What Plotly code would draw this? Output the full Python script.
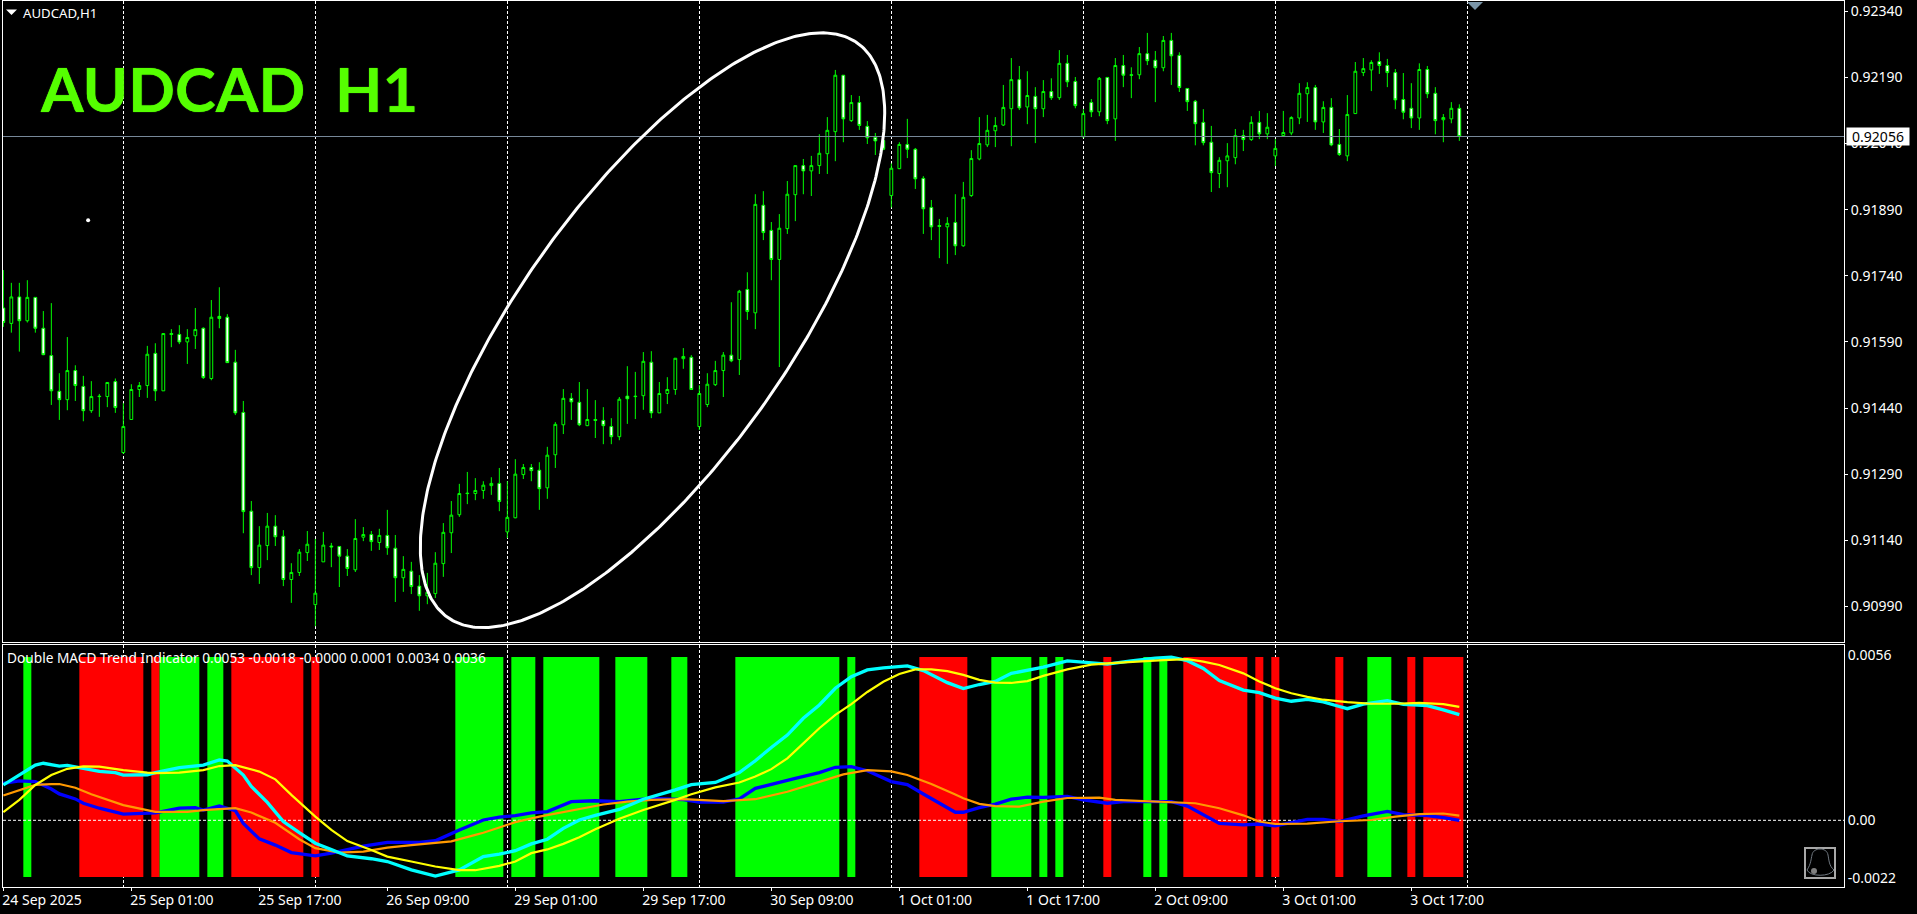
import numpy as np
import plotly.graph_objects as go

W, H = 1917, 914

# ---- price data, in points (price * 1e5), one entry per hourly bar ----
opens = [91667,91632,91692,91638,91691,91621,91559,91478,91459,91525,
91489,91434,91467,91466,91500,91339,91414,91482,91491,91564,
91479,91609,91607,91590,91604,91621,91507,91648,91646,91544,
91430,91206,91078,91128,91172,91149,91051,91067,91112,90994,
91091,91127,91126,91104,91073,91147,91153,91135,91151,91122,
91055,91070,91036,91014,91019,91087,91157,91198,91247,91246,
91253,91264,91269,91159,91191,91289,91305,91299,91259,91334,
91402,91462,91453,91400,91414,91412,91398,91375,91467,91467,
91468,91544,91429,91473,91482,91552,91555,91398,91448,91493,
91525,91560,91550,91709,91656,91900,91843,91777,91847,91924,
91990,91978,91990,92017,92067,92195,92092,92133,92079,92054,
92047,91922,91983,92038,92027,91961,91895,91854,91851,91861,
91808,91922,92005,92037,92069,92082,92119,92185,92123,92147,
92119,92158,92144,92222,92181,92055,92133,92112,92190,92096,
92217,92196,92196,92244,92229,92212,92274,92240,92165,92136,
92088,92043,91972,92001,92008,92058,92049,92088,92062,92012,
92058,92064,92098,92153,92167,92089,92122,92038,92012,92108,
92201,92207,92226,92217,92201,92140,92120,92098,92208,92154,
92094,92096,92120]
closes = [91634,91692,91638,91691,91621,91561,91479,91459,91525,91491,
91434,91466,91466,91498,91441,91398,91482,91491,91562,91479,
91609,91607,91590,91600,91618,91509,91646,91643,91543,91429,
91205,91078,91129,91172,91148,91051,91067,91113,91131,91020,
91129,91125,91104,91076,91144,91153,91137,91151,91123,91055,
91074,91035,91014,91022,91088,91158,91197,91246,91246,91253,
91265,91269,91228,91192,91290,91305,91298,91257,91333,91403,
91462,91454,91402,91414,91412,91400,91375,91460,91461,91466,
91546,91429,91473,91482,91553,91557,91482,91473,91494,91525,
91560,91547,91705,91659,91902,91838,91777,91848,91925,91990,
91978,91990,92018,92070,92195,92096,92133,92081,92053,92046,
92027,91984,92038,92027,91960,91892,91851,91852,91859,91808,
91918,92006,92040,92070,92081,92122,92185,92121,92149,92119,
92158,92144,92222,92180,92126,92108,92112,92188,92092,92217,
92195,92195,92244,92228,92212,92274,92239,92167,92135,92085,
92042,91974,92002,92012,92058,92049,92088,92062,92077,92029,
92065,92099,92154,92167,92089,92122,92037,92015,92106,92204,
92210,92224,92217,92201,92139,92111,92098,92208,92153,92092,
92099,92120,92056]
highs = [91753,91724,91724,91730,91691,91660,91678,91519,91601,91537,
91513,91501,91472,91498,91507,91451,91494,91499,91581,91587,
91609,91619,91628,91619,91667,91623,91685,91714,91653,91572,
91456,91229,91172,91202,91197,91163,91088,91120,91161,91143,
91159,91134,91126,91120,91188,91170,91161,91166,91209,91152,
91104,91091,91061,91066,91113,91179,91229,91268,91295,91281,
91274,91283,91304,91274,91324,91313,91313,91317,91352,91408,
91483,91474,91499,91483,91458,91442,91417,91465,91535,91522,
91567,91569,91499,91510,91553,91576,91560,91492,91519,91547,
91567,91680,91708,91748,91925,91932,91862,91880,91955,91990,
92005,92012,92061,92100,92207,92195,92150,92148,92091,92064,
92048,91995,92043,92096,92030,91966,91912,91869,91873,91925,
91953,92025,92100,92105,92100,92173,92234,92216,92204,92168,
92184,92188,92252,92241,92191,92118,92141,92191,92191,92234,
92241,92213,92259,92291,92250,92284,92291,92247,92165,92139,
92118,92080,92009,92041,92073,92071,92102,92114,92109,92050,
92114,92102,92177,92179,92173,92136,92143,92073,92150,92225,
92234,92229,92247,92232,92209,92200,92177,92222,92216,92168,
92107,92134,92129]
lows = [91624,91611,91568,91634,91611,91560,91447,91413,91435,91456,
91410,91429,91420,91442,91429,91336,91413,91465,91463,91456,
91479,91578,91585,91540,91574,91506,91503,91621,91543,91424,
91156,91061,91041,91095,91127,91036,90998,91059,91093,90945,
91091,91079,91034,91059,91068,91138,91116,91118,91107,91000,
91023,91018,90980,90995,91009,91057,91111,91193,91222,91231,
91234,91243,91206,91145,91190,91279,91274,91209,91234,91304,
91381,91413,91399,91399,91372,91358,91358,91367,91404,91415,
91436,91417,91429,91449,91470,91529,91482,91390,91442,91490,
91465,91544,91515,91640,91619,91821,91730,91533,91835,91864,
91925,91921,91971,91971,92000,92043,92089,92071,92039,92014,
92025,91895,91982,92007,91937,91835,91821,91780,91767,91787,
91806,91919,92002,92032,92032,92080,92034,92116,92084,92041,
92100,92139,92139,92168,92120,92055,92100,92102,92084,92046,
92168,92143,92186,92218,92134,92204,92173,92157,92114,92036,
92036,91930,91939,91941,91993,92023,92046,92050,92050,91989,
92057,92059,92084,92089,92071,92064,92034,92012,92000,92107,
92193,92159,92198,92168,92118,92095,92075,92071,92143,92061,
92043,92086,92046]

price_ticks = [92340,92190,92040,91890,91740,91590,91440,91290,91140,90990]
last_price = 92056

# tick labels
date_bars = [0,16,32,48,64,80,96,112,128,144,160,176]
date_labels = ["24 Sep 2025","25 Sep 01:00","25 Sep 17:00","26 Sep 09:00","29 Sep 01:00",
               "29 Sep 17:00","30 Sep 09:00","1 Oct 01:00","1 Oct 17:00","2 Oct 09:00",
               "3 Oct 01:00","3 Oct 17:00"]
grid_bars = [15,39,63,87,111,135,159,183]

# ---- indicator data, in 1e-5 units ----
green_runs = [(3,3),(20,24),(26,27),(57,62),(64,66),(68,74),(77,80),(84,85),(92,104),(106,106),
              (124,128),(130,130),(132,132),(143,143),(145,145),(171,173)]
red_runs = [(10,17),(19,19),(29,37),(39,39),(115,120),(138,138),(148,155),(157,157),(159,159),
            (167,167),(176,176),(178,182)]
hist_top = 527
hist_bottom = -183

cyan_bars = [0,2,4,5,7,8,10,12,14,15,18,19,22,25,27,28,30,31,33,35,37,39,41,43,46,48,51,54,57,60,
             62,64,66,68,70,72,74,77,80,82,84,86,89,92,94,96,98,100,102,104,106,108,110,113,115,118,120,
             122,124,126,128,130,133,135,138,141,144,146,148,150,152,155,157,159,161,163,165,167,168,170,173,175,178,180,182]
cyan_vals = [114,146,178,184,175,177,168,158,154,146,147,154,170,178,195,191,146,109,58,-4,-40,-74,-94,-115,-124,-133,-160,-180,-160,-117,
             -109,-98,-76,-61,-26,1,16,35,68,82,98,115,122,154,192,235,275,329,372,426,463,485,492,498,483,444,425,
             438,448,474,485,494,514,509,504,514,523,526,515,490,451,420,412,394,384,390,382,367,360,375,386,374,370,356,341]

yellow_bars = [0,2,4,6,8,10,12,15,18,19,22,25,27,29,32,34,36,39,41,43,46,48,51,54,57,59,62,
               64,66,68,70,72,74,77,80,82,84,86,89,92,94,96,98,100,102,104,106,108,110,112,114,116,118,120,
               122,124,126,128,130,133,136,139,142,145,148,150,152,155,157,159,161,163,165,168,171,174,177,180,182]
yellow_vals = [26,66,114,146,166,174,173,162,154,152,154,162,175,178,157,132,82,12,-31,-67,-96,-117,-133,-149,-161,-161,-147,
               -133,-106,-94,-76,-55,-29,5,33,49,66,84,106,122,141,165,200,248,297,340,375,414,447,472,487,487,481,469,
               453,444,443,449,466,487,502,508,513,517,520,512,501,474,448,426,410,398,389,381,376,376,379,375,366]

blue_bars = [0,2,4,6,7,9,10,12,15,18,19,22,24,25,27,29,30,32,34,36,38,39,41,43,45,48,52,54,57,60,
             62,64,66,68,71,74,77,80,82,85,87,90,92,94,96,99,102,104,106,108,111,113,115,117,119,120,
             122,124,126,128,130,133,135,138,140,143,146,148,150,152,155,157,159,163,165,167,170,173,175,178,180,182]
blue_vals = [119,127,125,101,85,69,55,39,20,22,24,39,41,33,46,31,-10,-60,-80,-104,-112,-115,-106,-94,-83,-71,-71,-66,-31,1,
             10,15,24,28,60,63,60,68,70,67,59,59,69,103,115,135,154,171,173,160,125,115,85,55,26,26,
             41,52,68,75,74,77,66,55,60,60,60,46,17,-10,-15,-12,-18,3,3,-4,14,29,18,15,9,0]

orange_bars = [0,2,4,6,7,9,11,15,18,19,23,25,29,31,34,37,39,42,45,48,51,56,59,60,62,64,67,71,75,78,81,85,87,90,
               94,98,101,105,108,111,113,116,119,120,122,124,127,130,133,137,139,143,146,149,152,155,157,159,
               163,167,171,174,177,180,182]
orange_vals = [80,98,114,117,117,105,84,49,32,27,27,33,39,25,-8,-61,-90,-104,-101,-88,-80,-68,-47,-40,-23,-6,12,31,51,60,66,68,65,62,
               68,92,116,148,162,158,146,117,83,71,53,46,44,60,72,73,66,61,59,55,39,16,-4,-12,
               -11,-3,1,12,20,22,15]

sub_tick_vals = [533, 0, -186]
sub_tick_text = ["0.0056", "0.00", "-0.0022"]
legend_text = "Double MACD Trend Indicator 0.0053 -0.0018 -0.0000 0.0001 0.0034 0.0036"
big_title = "AUDCAD\u00a0\u00a0H1"
chart_name = "AUDCAD,H1"

assert len(opens) == len(closes) == len(highs) == len(lows) == 183
assert len(cyan_bars) == len(cyan_vals) and len(yellow_bars) == len(yellow_vals)
assert len(blue_bars) == len(blue_vals) and len(orange_bars) == len(orange_vals)

# ---- layout geometry (pixels) ----
P_L, P_R = 3, 1844
M_T, M_B = 1, 642
S_T, S_B = 645, 887
BAR0_PX, BAR_PX = 3.33, 8.0
x_range = [(P_L - BAR0_PX) / BAR_PX, (P_R - BAR0_PX) / BAR_PX]
PTS_PER_PX = 2.2686
y_top = last_price + (136.5 - M_T) * PTS_PER_PX
y_bot = last_price - (M_B - 136.5) * PTS_PER_PX
s_top = (820.3 - S_T) / 0.31
s_bot = -(S_B - 820.3) / 0.31

px_x = lambda p: (p - BAR0_PX) / BAR_PX
px_y = lambda p: (last_price + (136.5 - p) * PTS_PER_PX) / 1e5
pap_x = lambda p: p / W
pap_y = lambda p: 1 - p / H

FONT = "Noto Sans"
TXT = dict(family=FONT, size=14, color="white")
bars = list(range(183))

fig = go.Figure()

fig.add_trace(go.Candlestick(
    x=bars,
    open=[v / 1e5 for v in opens], high=[v / 1e5 for v in highs],
    low=[v / 1e5 for v in lows], close=[v / 1e5 for v in closes],
    increasing=dict(line=dict(color="#00ff00", width=1), fillcolor="#000000"),
    decreasing=dict(line=dict(color="#00ff00", width=1), fillcolor="#ffffff"),
    whiskerwidth=0, xaxis="x", yaxis="y", hoverinfo="skip", showlegend=False))

# last price line
fig.add_trace(go.Scatter(x=x_range, y=[last_price / 1e5] * 2, mode="lines",
                         line=dict(color="#778899", width=1), xaxis="x", yaxis="y",
                         hoverinfo="skip", showlegend=False))

# hand drawn oval
t = np.linspace(0, 2 * np.pi, 500)
cx, cy, ax_, ay_, rho = 652.5, 330.2, 232.2, 297.4, -0.7297
ox = cx + ax_ * np.cos(t)
oy = cy + ay_ * (rho * np.cos(t) + np.sqrt(1 - rho ** 2) * np.sin(t))
fig.add_trace(go.Scatter(x=px_x(ox), y=px_y(oy), mode="lines", line=dict(color="white", width=3),
                         xaxis="x", yaxis="y", hoverinfo="skip", showlegend=False))

# small dot
fig.add_trace(go.Scatter(x=[10.6], y=[0.91866], mode="markers", marker=dict(color="white", size=4),
                         xaxis="x", yaxis="y", hoverinfo="skip", showlegend=False))

# signal columns: one bar per run of equal signal
for runs, colour in ((green_runs, "#00ff00"), (red_runs, "#ff0000")):
    fig.add_trace(go.Bar(x=[(a + b) / 2 for a, b in runs],
                         width=[b - a + 1 for a, b in runs],
                         y=[(hist_top - hist_bottom) / 1e5] * len(runs), base=hist_bottom / 1e5,
                         marker=dict(color=colour, line=dict(width=0)),
                         xaxis="x2", yaxis="y2", hoverinfo="skip", showlegend=False))

fig.add_trace(go.Scatter(x=x_range, y=[0, 0], mode="lines",
                         line=dict(color="white", width=1, dash="3px,2px"), xaxis="x2", yaxis="y2",
                         hoverinfo="skip", showlegend=False))

for xs, ys, colour, width in ((blue_bars, blue_vals, "#0000ff", 3.3), (orange_bars, orange_vals, "#ff9900", 2.2),
                              (cyan_bars, cyan_vals, "#00ffff", 3.3), (yellow_bars, yellow_vals, "#ffff00", 2.2)):
    fig.add_trace(go.Scatter(x=xs, y=[v / 1e5 for v in ys], mode="lines",
                             line=dict(color=colour, width=width), xaxis="x2", yaxis="y2",
                             hoverinfo="skip", showlegend=False))

dom_x = [P_L / W, P_R / W]
grid = dict(tickvals=grid_bars, showgrid=True, gridcolor="#ffffff", griddash="3px,2px", gridwidth=1, ticks="")
axis_common = dict(showline=True, linecolor="white", linewidth=1, mirror=True, zeroline=False, showgrid=False)

shapes = [
    dict(type="path", xref="paper", yref="paper", line=dict(width=0), fillcolor="#7b95a8",
         path=f"M{pap_x(1467)},{pap_y(2)} L{pap_x(1483)},{pap_y(2)} L{pap_x(1475)},{pap_y(10)} Z"),
    dict(type="path", xref="paper", yref="paper", line=dict(width=0), fillcolor="white",
         path=f"M{pap_x(6)},{pap_y(9.5)} L{pap_x(17)},{pap_y(9.5)} L{pap_x(11.5)},{pap_y(15)} Z"),
    dict(type="rect", xref="paper", yref="paper", x0=pap_x(1805), x1=pap_x(1835), y0=pap_y(848), y1=pap_y(878),
         line=dict(color="#a8a8a8", width=2)),
    dict(type="path", xref="paper", yref="paper", line=dict(color="#707880", width=1),
         path=(f"M{pap_x(1807)},{pap_y(870)} C{pap_x(1811)},{pap_y(864)} {pap_x(1811)},{pap_y(859)} {pap_x(1812)},{pap_y(855)} "
               f"C{pap_x(1813)},{pap_y(847)} {pap_x(1827)},{pap_y(847)} {pap_x(1828)},{pap_y(855)} "
               f"C{pap_x(1829)},{pap_y(860)} {pap_x(1829)},{pap_y(866)} {pap_x(1834)},{pap_y(870)} "
               f"C{pap_x(1830)},{pap_y(877)} {pap_x(1810)},{pap_y(877)} {pap_x(1807)},{pap_y(870)} Z")),
    dict(type="circle", xref="paper", yref="paper", x0=pap_x(1811), x1=pap_x(1817), y0=pap_y(868), y1=pap_y(874),
         line=dict(width=0), fillcolor="#808080"),
]

annotations = [
    dict(text=big_title, xref="paper", yref="paper", x=pap_x(38), y=pap_y(88), xanchor="left", yanchor="middle",
         showarrow=False, font=dict(family="Lato", size=61.5, color="#55ff00", weight="bold",
                                    shadow="0 0 1px #55ff00")),
    dict(text=chart_name, xref="paper", yref="paper", x=pap_x(21), y=pap_y(13), xanchor="left", yanchor="middle",
         showarrow=False, font=dict(family=FONT, size=13.2, color="white")),
    dict(text=legend_text, xref="paper", yref="paper", x=pap_x(5), y=pap_y(657), xanchor="left", yanchor="middle",
         showarrow=False, font=dict(family=FONT, size=13.7, color="white")),
    dict(text=f"{last_price / 1e5:.5f}", xref="paper", yref="y", x=pap_x(1846), y=last_price / 1e5,
         xanchor="left", yanchor="middle", showarrow=False, bgcolor="white", borderpad=0, width=62, height=17,
         align="center", font=dict(family=FONT, size=14, color="black")),
]

fig.update_layout(
    width=W, height=H, autosize=False, margin=dict(l=0, r=0, t=0, b=0),
    paper_bgcolor="#000000", plot_bgcolor="#000000", showlegend=False, barmode="overlay",
    boxgap=0.5, dragmode=False, shapes=shapes, annotations=annotations,
    xaxis=dict(domain=dom_x, range=x_range, anchor="y", rangeslider=dict(visible=False),
               showticklabels=False, ticks="", minor=grid, **axis_common),
    yaxis=dict(domain=[pap_y(M_B), pap_y(M_T)], range=[y_bot / 1e5, y_top / 1e5], anchor="x", side="right",
               tickvals=[v / 1e5 for v in price_ticks], ticktext=[f"{v / 1e5:.5f}" for v in price_ticks],
               ticks="outside", ticklen=3, tickcolor="white", tickfont=TXT, **axis_common),
    xaxis2=dict(domain=dom_x, range=x_range, anchor="y2", matches="x",
                tickvals=date_bars, ticktext=date_labels, ticklabelposition="outside right",
                ticklabelshift=-2, ticks="outside", ticklen=3, tickcolor="white", tickfont=TXT,
                minor=grid, **axis_common),
    yaxis2=dict(domain=[pap_y(S_B), pap_y(S_T)], range=[s_bot / 1e5, s_top / 1e5], anchor="x2", side="right",
                tickvals=[v / 1e5 for v in sub_tick_vals], ticktext=sub_tick_text,
                ticks="", tickfont=TXT, **axis_common),
)

fig.write_html("out.html", config=dict(displayModeBar=False, staticPlot=True),
               post_script="document.body.style.margin='0';document.body.style.overflow='hidden';")
